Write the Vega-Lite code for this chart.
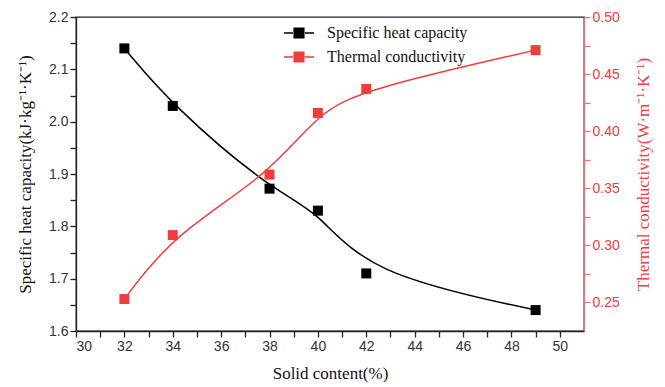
{
  "$schema": "https://vega.github.io/schema/vega-lite/v6.json",
  "width": 508,
  "height": 314,
  "autosize": "none",
  "padding": {"left": 76, "top": 17, "right": 81, "bottom": 56},
  "background": "white",
  "config": {
    "view": {"stroke": "#222222", "strokeWidth": 1.3},
    "axis": {
      "labelFont": "Liberation Sans",
      "labelFontSize": 14,
      "labelColor": "#333333",
      "titleFont": "Liberation Serif",
      "titleFontSize": 17,
      "titleFontWeight": "normal",
      "titleColor": "#111111",
      "grid": false,
      "domainColor": "#222222",
      "domainWidth": 1.3,
      "tickColor": "#222222",
      "tickWidth": 1.3,
      "tickSize": 6,
      "ticks": true
    },
    "legend": {
      "labelFont": "Liberation Serif",
      "labelFontSize": 16,
      "labelColor": "#111111"
    }
  },
  "data": {
    "values": [
      {"solid": 32, "series": "Specific heat capacity", "value": 2.14},
      {"solid": 34, "series": "Specific heat capacity", "value": 2.03},
      {"solid": 38, "series": "Specific heat capacity", "value": 1.872},
      {"solid": 40, "series": "Specific heat capacity", "value": 1.83},
      {"solid": 42, "series": "Specific heat capacity", "value": 1.71},
      {"solid": 49, "series": "Specific heat capacity", "value": 1.64},
      {"solid": 32, "series": "Thermal conductivity", "value": 0.253},
      {"solid": 34, "series": "Thermal conductivity", "value": 0.309},
      {"solid": 38, "series": "Thermal conductivity", "value": 0.362},
      {"solid": 40, "series": "Thermal conductivity", "value": 0.416},
      {"solid": 42, "series": "Thermal conductivity", "value": 0.437},
      {"solid": 49, "series": "Thermal conductivity", "value": 0.471}
    ]
  },
  "encoding": {
    "x": {
      "field": "solid",
      "type": "quantitative",
      "scale": {"domain": [30, 51], "nice": false, "zero": false},
      "axis": {
        "title": "Solid content(%)",
        "values": [30,31,32,33,34,35,36,37,38,39,40,41,42,43,44,45,46,47,48,49,50],
        "labelExpr": "datum.value % 2 == 0 ? datum.value : ''",
        "labelPadding": 2,
        "titlePadding": 12,
        "encode": {"ticks": {"update": {"y2": {"signal": "datum.value % 2 == 0 ? -6 : -3"}}}}
      }
    }
  },
  "layer": [
    {
      "transform": [{"filter": "datum.series == 'Specific heat capacity'"}],
      "encoding": {
        "y": {
          "field": "value",
          "type": "quantitative",
          "scale": {"domain": [1.6, 2.2], "nice": false, "zero": false},
          "axis": {
            "orient": "left",
            "title": "Specific heat capacity(kJ·kg⁻¹·K⁻¹)",
            "values": [1.6,1.65,1.7,1.75,1.8,1.85,1.9,1.95,2.0,2.05,2.1,2.15,2.2],
            "labelExpr": "abs(datum.value*10 - round(datum.value*10)) < 0.001 ? format(datum.value, '.1f') : ''",
            "labelPadding": 2,
            "titlePadding": 14,
            "encode": {"ticks": {"update": {"x2": {"signal": "abs(datum.value*10 - round(datum.value*10)) < 0.001 ? 6 : 3"}}}}
          }
        }
      },
      "layer": [
        {
          "mark": {"type": "line", "interpolate": "basis", "strokeWidth": 1.5},
          "encoding": {
            "color": {
              "field": "series",
              "type": "nominal",
              "scale": {"domain": ["Specific heat capacity", "Thermal conductivity"], "range": ["#000000", "#F03C3C"]},
              "legend": {
                "title": null,
                "orient": "none",
                "legendX": 207,
                "legendY": 0,
                "symbolType": "M-1,0H-0.4M0.4,0H1M-0.32,-0.32H0.32V0.32H-0.32Z",
                "symbolSize": 900,
                "symbolStrokeWidth": 1.5,
                "labelOffset": 12,
                "rowPadding": -10,
                "encode": {"symbols": {"update": {"stroke": {"scale": "color", "field": "value"}, "fill": {"scale": "color", "field": "value"}, "fillOpacity": {"value": 1}}}}
              }
            }
          }
        },
        {
          "mark": {"type": "point", "shape": "square", "filled": true, "size": 100, "opacity": 1},
          "encoding": {"color": {"field": "series", "type": "nominal"}}
        }
      ]
    },
    {
      "transform": [{"filter": "datum.series == 'Thermal conductivity'"}],
      "encoding": {
        "y": {
          "field": "value",
          "type": "quantitative",
          "scale": {"domain": [0.225, 0.5], "nice": false, "zero": false},
          "axis": {
            "orient": "right",
            "title": "Thermal conductivity(W·m⁻¹·K⁻¹)",
            "titleAngle": 270,
            "titleBaseline": "top",
            "titleColor": "#F03C3C",
            "labelColor": "#F03C3C",
            "domainColor": "#F47070",
            "tickColor": "#F47070",
            "values": [0.25,0.275,0.3,0.325,0.35,0.375,0.4,0.425,0.45,0.475,0.5],
            "labelExpr": "abs(datum.value*20 - round(datum.value*20)) < 0.001 ? format(datum.value, '.2f') : ''",
            "labelPadding": 2,
            "titlePadding": 16,
            "encode": {"ticks": {"update": {"x2": {"signal": "abs(datum.value*20 - round(datum.value*20)) < 0.001 ? -6 : -3"}}}}
          }
        }
      },
      "layer": [
        {
          "mark": {"type": "line", "interpolate": "basis", "strokeWidth": 1.5},
          "encoding": {"color": {"field": "series", "type": "nominal"}}
        },
        {
          "mark": {"type": "point", "shape": "square", "filled": true, "size": 100, "opacity": 1},
          "encoding": {"color": {"field": "series", "type": "nominal"}}
        }
      ]
    }
  ],
  "resolve": {"scale": {"y": "independent"}}
}
